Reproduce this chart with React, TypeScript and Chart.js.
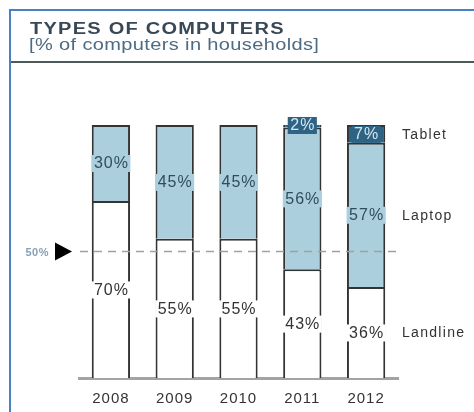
import React, { useEffect, useRef } from 'react';
import { Chart, registerables } from 'chart.js';

Chart.register(...registerables);

const years = ['2008', '2009', '2010', '2011', '2012'];
const landline = [70, 55, 55, 43, 36];
const laptop = [30, 45, 45, 56, 57];
const tablet = [null, null, null, 2, 7];
const seriesNames = ['Landline', 'Laptop', 'Tablet'];
const referenceValue = 50;
const referenceLabel = '50%';
const titleText = 'TYPES OF COMPUTERS';
const subtitleText = '[% of computers in households]';

const FONT = '"Liberation Sans", Arial, Helvetica, sans-serif';
const fills = ['#ffffff', '#abcfdc', '#2e6384'];
const labelColors = ['#333333', '#2f4d60', '#d4e6f0'];

const overlayPlugin = {
  id: 'overlay',
  beforeDraw(chart: any) {
    (chart.ctx as any).letterSpacing = '1px';
  },
  afterDatasetsDraw(chart: any) {
    const { ctx, chartArea, scales } = chart;
    const y50 = scales.y.getPixelForValue(referenceValue);
    ctx.save();
    // dashed reference line
    ctx.strokeStyle = '#a0a0a0';
    ctx.lineWidth = 1.5;
    ctx.setLineDash([8, 6]);
    ctx.beginPath();
    ctx.moveTo(chartArea.left + 1, y50);
    ctx.lineTo(chartArea.right + 2, y50);
    ctx.stroke();
    ctx.setLineDash([]);
    // triangle marker
    ctx.fillStyle = '#000000';
    ctx.beginPath();
    ctx.moveTo(chartArea.left - 24, y50 - 9);
    ctx.lineTo(chartArea.left - 7, y50);
    ctx.lineTo(chartArea.left - 24, y50 + 9);
    ctx.closePath();
    ctx.fill();
    // 50% text
    ctx.font = `bold 11px ${FONT}`;
    (ctx as any).letterSpacing = '0.5px';
    ctx.fillStyle = '#86a0b4';
    ctx.textAlign = 'right';
    ctx.textBaseline = 'middle';
    ctx.fillText(referenceLabel, chartArea.left - 30, y50 + 1);

    // value labels
    ctx.font = `16px ${FONT}`;
    (ctx as any).letterSpacing = '1px';
    ctx.textAlign = 'center';
    chart.data.datasets.forEach((ds: any, i: number) => {
      const meta = chart.getDatasetMeta(i);
      meta.data.forEach((el: any, j: number) => {
        const v = ds.data[j];
        if (v == null) return;
        const p = el.getProps(['x', 'y', 'base'], true);
        const cy = (p.y + p.base) / 2;
        const text = v + '%';
        const w = ctx.measureText(text).width;
        ctx.fillStyle = fills[i];
        ctx.fillRect(p.x - w / 2 - 2, cy - 8, w + 4, 17);
        ctx.fillStyle = labelColors[i];
        ctx.fillText(text, p.x + 0.5, cy + 1);
      });
    });

    // series names at right
    ctx.font = `14px ${FONT}`;
    (ctx as any).letterSpacing = '1.3px';
    ctx.textAlign = 'left';
    ctx.fillStyle = '#333333';
    chart.data.datasets.forEach((ds: any, i: number) => {
      const meta = chart.getDatasetMeta(i);
      const last = meta.data.length - 1;
      const el = meta.data[last];
      if (!el || ds.data[last] == null) return;
      const p = el.getProps(['x', 'y', 'base'], true);
      const cy = (p.y + p.base) / 2;
      ctx.fillText(ds.label, chartArea.right + 4, cy + 1);
    });
    ctx.restore();
  },
};

export default function App() {
  const ref = useRef<HTMLCanvasElement | null>(null);

  useEffect(() => {
    if (!ref.current) return;
    const chart = new Chart(ref.current, {
      type: 'bar',
      data: {
        labels: years,
        datasets: [
          { label: seriesNames[0], data: landline, backgroundColor: fills[0] },
          { label: seriesNames[1], data: laptop, backgroundColor: fills[1] },
          { label: seriesNames[2], data: tablet as any, backgroundColor: fills[2] },
        ].map((d) => ({
          ...d,
          borderColor: '#333333',
          borderWidth: 2,
          borderSkipped: 'start',
          categoryPercentage: 1,
          barPercentage: 0.6,
        })) as any,
      },
      options: {
        responsive: false,
        animation: false,
        devicePixelRatio: 1,
        layout: { padding: { left: 79, right: 76, top: 125, bottom: 0 } },
        plugins: {
          legend: { display: false },
          tooltip: { enabled: false },
          title: { display: false },
        },
        scales: {
          x: {
            stacked: true,
            grid: { display: false, drawTicks: false },
            border: { display: true, color: '#a3a3a3', width: 3 },
            ticks: { color: '#333333', font: { size: 15, family: FONT }, padding: 12 },
            afterFit: (s: any) => {
              s.height = 34;
            },
          },
          y: { stacked: true, display: false, min: 0, max: 100 },
        },
      },
      plugins: [overlayPlugin],
    });
    return () => chart.destroy();
  }, []);

  return (
    <div
      style={{
        position: 'absolute',
        left: 0,
        top: 0,
        width: 474,
        height: 412,
        background: '#ffffff',
        overflow: 'hidden',
      }}
    >
      <canvas
        ref={ref}
        width={474}
        height={412}
        style={{ position: 'absolute', left: 0, top: 0, width: 474, height: 412 }}
      />
      <div style={{ position: 'absolute', left: 9, top: 9, width: 2, height: 403, background: '#4a80c8' }} />
      <div style={{ position: 'absolute', left: 9, top: 9, width: 465, height: 2, background: '#4a80c8' }} />
      <div style={{ position: 'absolute', left: 11, top: 61, width: 463, height: 2, background: '#4d5a5a' }} />
      <div
        style={{
          position: 'absolute',
          left: 30,
          top: 21,
          font: `bold 16px ${FONT}`,
          lineHeight: '16px',
          letterSpacing: '1px',
          color: '#394856',
          whiteSpace: 'nowrap',
          transform: 'scaleX(1.25)',
          transformOrigin: 'left top',
        }}
      >
        {titleText}
      </div>
      <div
        style={{
          position: 'absolute',
          left: 29,
          top: 37,
          font: `16px ${FONT}`,
          lineHeight: '16px',
          letterSpacing: '0.3px',
          color: '#4d6b82',
          whiteSpace: 'nowrap',
          transform: 'scaleX(1.25)',
          transformOrigin: 'left top',
        }}
      >
        {subtitleText}
      </div>
    </div>
  );
}
